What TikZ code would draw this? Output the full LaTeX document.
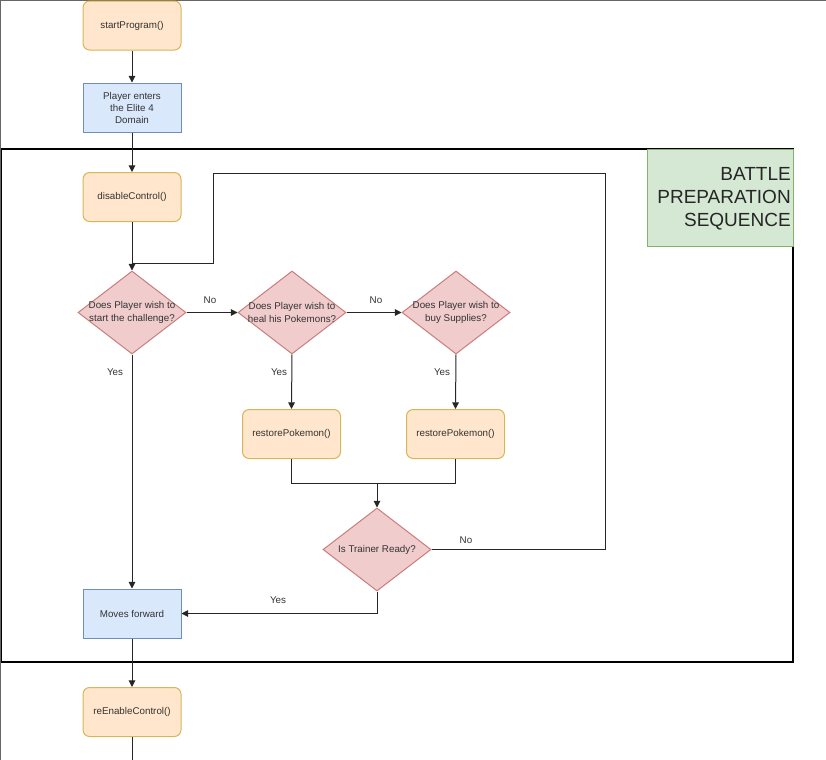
\documentclass[tikz,border=0pt]{standalone}
\usepackage{fontspec}
\setmainfont{Liberation Sans}
\usetikzlibrary{arrows.meta,shapes.geometric}
\definecolor{ofill}{HTML}{FFE6CC}
\definecolor{ostroke}{HTML}{D6B656}
\definecolor{bfill}{HTML}{DAE8FC}
\definecolor{bstroke}{HTML}{6C8EBF}
\definecolor{rfill}{HTML}{F0CCCC}
\definecolor{rstroke}{HTML}{C97E7B}
\definecolor{gfill}{HTML}{D5E8D4}
\definecolor{gstroke}{HTML}{82B366}
\definecolor{txt}{HTML}{333333}
\begin{document}
\begin{tikzpicture}[x=0.75pt,y=-0.75pt,
  every node/.style={font=\fontsize{7.35}{9}\selectfont, text=txt},
  func/.style={draw=ostroke, fill=ofill, rounded corners=5pt, minimum width=73.5pt, minimum height=36.75pt, inner sep=0pt, line width=0.75pt},
  proc/.style={draw=bstroke, fill=bfill, minimum width=73.5pt, minimum height=36.75pt, inner sep=0pt, line width=0.75pt, align=center},
  dec/.style={diamond, draw=rstroke, fill=rfill, minimum width=81pt, minimum height=62.25pt, inner sep=0pt, line width=0.75pt},
  dectext/.style={align=center, inner sep=0pt, font=\fontsize{7.35}{9.75}\selectfont},
  lbl/.style={inner sep=0pt},
  conn/.style={line width=0.75pt, draw=black!85},
  arr/.style={conn, -{Triangle[length=5pt,width=5pt]}}
]
\useasboundingbox (0,0) rectangle (826,760);
% outer image frame (top and left)
\draw[line width=0.9pt, draw=black!60] (0.5,760) -- (0.5,0.5) -- (826,0.5);
% battle preparation frame
\draw[line width=0.8pt, draw=black] (1.5,149) rectangle (793,662);
\node[draw=gstroke, fill=gfill, minimum width=109.5pt, minimum height=72.75pt, inner sep=0pt, line width=0.75pt] (bps) at (720,197.5) {};
\node[anchor=east, align=right, inner sep=0pt, font=\fontsize{14.25}{17.25}\selectfont, text=black!85] (bpst) at (791,199) {BATTLE\\PREPARATION\\SEQUENCE};

% nodes
\node[func] (sp) at (132,25.5) {startProgram()};
\node[proc] (pe) at (132,107.5) {Player enters\\the Elite 4\\Domain};
\node[func] (dc) at (132,197) {disableControl()};
\node[dec] (d1) at (132,312.5) {};
\node[dectext] (d1t) at (d1) {Does Player wish to\\start the challenge?};
\node[dec] (d2) at (292,312.5) {};
\node[dectext] (d2t) at (d2) {Does Player wish to\\heal his Pokemons?};
\node[dec] (d3) at (456,312.5) {};
\node[dectext] (d3t) at (d3) {Does Player wish to\\buy Supplies?};
\node[func] (r1) at (291.5,434) {restorePokemon()};
\node[func] (r2) at (455.5,434) {restorePokemon()};
\node[dec] (d4) at (377,549.5) {};
\node[dectext] (d4t) at (d4) {Is Trainer Ready?};
\node[proc] (mf) at (132,613.5) {Moves forward};
\node[func] (re) at (132,712) {reEnableControl()};

% labels
\node[lbl] (no1) at (210,300) {No};
\node[lbl] (no2) at (376,300) {No};
\node[lbl] (no3) at (466,540) {No};
\node[lbl] (y1) at (115,372) {Yes};
\node[lbl] (y2) at (279,372) {Yes};
\node[lbl] (y3) at (442,372) {Yes};
\node[lbl] (y4) at (278,600) {Yes};

% coordinates
\coordinate (m) at (377,483);
\coordinate (l1) at (605,173);
\coordinate (l2) at (213,263);
\coordinate (j) at (132,263);
\coordinate (endc) at (132,760);

% connectors
\draw[arr] (sp) -- (pe);
\draw[arr] (pe) -- (dc);
\draw[arr] (dc) -- (d1);
\draw[arr] (d1.east) -- (d2.west);
\draw[arr] (d2.east) -- (d3.west);
\draw[arr] (d1.south) -- (mf.north);
\draw[arr] (d2.south) -- (r1.north);
\draw[arr] (d3.south) -- (r2.north);
\draw[conn] (r1.south) |- (m);
\draw[conn] (r2.south) |- (m);
\draw[arr] (m) -- (d4.north);
\draw[conn] (d4.east) -| (l1) -| (l2) -- (j);
\draw[arr] (d4.south) |- (mf.east);
\draw[arr] (mf) -- (re);
\draw[conn] (re.south) -- (endc);
\end{tikzpicture}
\end{document}
